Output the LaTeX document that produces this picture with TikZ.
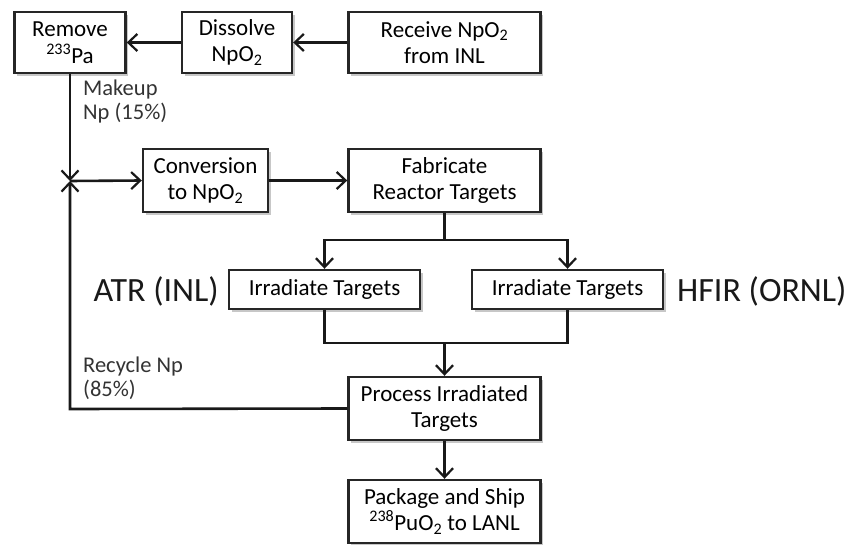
\documentclass[tikz,border=0pt]{standalone}
\usepackage{fontspec}
\setmainfont{Carlito}
\usetikzlibrary{arrows.meta,shadows,calc}
\begin{document}
\begin{tikzpicture}[x=1pt,y=-1pt,
  box/.style={draw=black!85,line width=2.4pt,fill=white,align=center,inner sep=2pt,
    font=\fontsize{23}{26.5}\selectfont,
    drop shadow={shadow xshift=2.5pt,shadow yshift=-3pt,opacity=0.22,fill=black}},
  conn/.style={line width=2.6pt,draw=black!90},
  arr/.style={conn,-{Straight Barb[length=9pt,width=17pt,line width=2.2pt]}},
  lbl/.style={font=\fontsize{22.5}{24}\selectfont,align=left,inner sep=0pt,text=black!80},
  big/.style={font=\fontsize{34}{38}\selectfont,inner sep=0pt,text=black!90}]
\useasboundingbox (0,0) rectangle (853,545);
\node[box,minimum width=111pt,minimum height=61pt] (remove) at (70,42.5) {Remove\\\textsuperscript{233}Pa};
\node[box,minimum width=110pt,minimum height=61pt] (dissolve) at (237,42.5) {Dissolve\\NpO\textsubscript{2}};
\node[box,minimum width=192pt,minimum height=61pt] (receive) at (444.5,42.5) {Receive NpO\textsubscript{2}\\from INL};
\node[box,minimum width=125pt,minimum height=63pt] (conv) at (205.5,180.5) {Conversion\\to NpO\textsubscript{2}};
\node[box,minimum width=192pt,minimum height=63pt] (fab) at (444.5,180.5) {Fabricate\\Reactor Targets};
\node[box,minimum width=191pt,minimum height=39pt] (irrL) at (324.5,289.5) {Irradiate Targets};
\node[box,minimum width=191pt,minimum height=39pt] (irrR) at (567.5,289.5) {Irradiate Targets};
\node[box,minimum width=192pt,minimum height=63pt] (proc) at (444.5,408.5) {Process Irradiated\\Targets};
\node[box,minimum width=192pt,minimum height=63pt] (pack) at (444.5,511.5) {Package and Ship\\\textsuperscript{238}PuO\textsubscript{2} to LANL};
\node[big,anchor=east] (atr) at (219,291) {ATR (INL)};
\node[big,anchor=west] (hfir) at (677,291) {HFIR (ORNL)};
\node[lbl,anchor=north west] (makeup) at (83,80) {Makeup\\Np (15\%)};
\node[lbl,anchor=north west] (recycle) at (83,357) {Recycle Np\\(85\%)};
\coordinate (j) at (70,181);
\coordinate (rc) at (70,409);
\coordinate (split) at (444.5,240);
\coordinate (merge) at (444.5,343);
\draw[arr] (receive.west) -- (dissolve.east);
\draw[arr] (dissolve.west) -- (remove.east);
\draw[arr] (remove.south) -- (j);
\draw[arr] (proc.west) -- (rc) -- (j);
\draw[arr] (j) -- (conv.west);
\draw[arr] (conv.east) -- (fab.west);
\draw[conn] (fab.south) -- (split);
\draw[arr] (split) -| (irrL.north);
\draw[arr] (split) -| (irrR.north);
\draw[conn] (irrL.south) |- (merge) -| (irrR.south);
\draw[arr] (merge) -- (proc.north);
\draw[arr] (proc.south) -- (pack.north);
\end{tikzpicture}
\end{document}
